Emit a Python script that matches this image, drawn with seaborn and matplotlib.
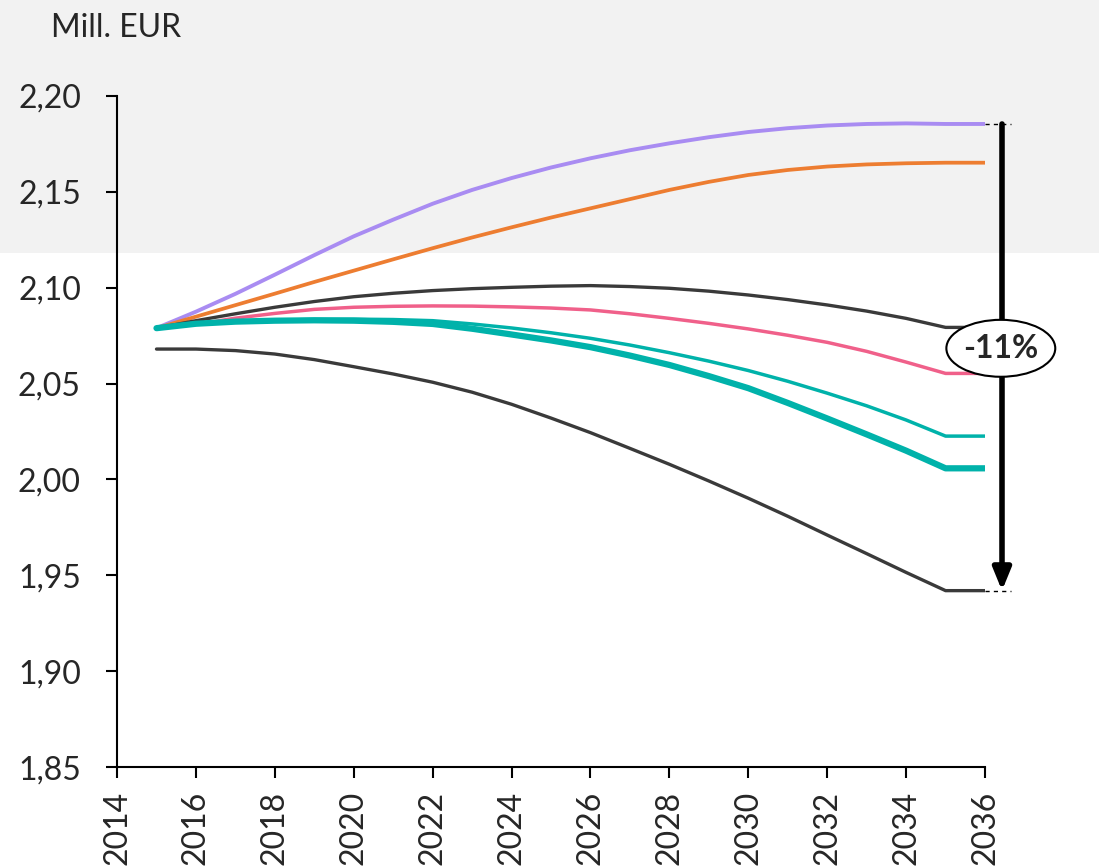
import matplotlib
matplotlib.use("Agg")
import matplotlib.pyplot as plt
import seaborn as sns
from matplotlib.patches import Ellipse, Rectangle

# data (Mill. EUR)
years = list(range(2015, 2037))
purple = [2.0789, 2.0875, 2.0968, 2.1068, 2.1170, 2.1268, 2.1355, 2.1438, 2.1510, 2.1572, 2.1627,
          2.1675, 2.1717, 2.1753, 2.1785, 2.1812, 2.1832, 2.1846, 2.1854, 2.1857, 2.1854, 2.1854]
orange = [2.0789, 2.0849, 2.0909, 2.0969, 2.1030, 2.1089, 2.1148, 2.1206, 2.1262, 2.1315, 2.1366,
          2.1414, 2.1462, 2.1510, 2.1552, 2.1588, 2.1614, 2.1632, 2.1643, 2.1649, 2.1652, 2.1652]
black_high = [2.0789, 2.0828, 2.0864, 2.0898, 2.0928, 2.0953, 2.0971, 2.0985, 2.0995, 2.1002, 2.1008,
              2.1011, 2.1006, 2.0997, 2.0982, 2.0962, 2.0938, 2.0910, 2.0878, 2.0840, 2.0793, 2.0793]
pink = [2.0789, 2.0809, 2.0841, 2.0866, 2.0887, 2.0898, 2.0903, 2.0905, 2.0904, 2.0900, 2.0894,
        2.0884, 2.0864, 2.0840, 2.0814, 2.0785, 2.0752, 2.0715, 2.0668, 2.0612, 2.0553, 2.0553]
teal_thin = [2.0789, 2.0814, 2.0825, 2.0830, 2.0835, 2.0836, 2.0834, 2.0828, 2.0811, 2.0790, 2.0765,
             2.0736, 2.0701, 2.0661, 2.0617, 2.0568, 2.0512, 2.0450, 2.0384, 2.0310, 2.0226, 2.0226]
teal_thick = [2.0789, 2.0812, 2.0823, 2.0828, 2.0830, 2.0828, 2.0822, 2.0811, 2.0786, 2.0756, 2.0725,
              2.0690, 2.0646, 2.0597, 2.0539, 2.0476, 2.0399, 2.0318, 2.0235, 2.0150, 2.0058, 2.0058]
black_low = [2.0680, 2.0680, 2.0672, 2.0654, 2.0625, 2.0588, 2.0550, 2.0507, 2.0455, 2.0392, 2.0320,
             2.0244, 2.0162, 2.0079, 1.9992, 1.9902, 1.9808, 1.9710, 1.9613, 1.9515, 1.9420, 1.9420]

x_ticks = list(range(2014, 2037, 2))
y_ticks = [1.85, 1.90, 1.95, 2.00, 2.05, 2.10, 2.15, 2.20]

sns.set_theme(style="ticks")
plt.rcParams["font.family"] = ["Lato", "DejaVu Sans"]

fig = plt.figure(figsize=(10.99, 8.67), dpi=100)
fig.patch.set_facecolor("white")
fig.patches.append(Rectangle((0, 0.708), 1, 0.292, transform=fig.transFigure,
                             facecolor="#f2f2f2", edgecolor="none", zorder=-10))
ax = fig.add_axes([0.1065, 0.1153, 0.7898, 0.774])
ax.set_facecolor("none")

series = [
    (purple, "#a98cf2", 2.8),
    (orange, "#ed7d31", 2.7),
    (black_high, "#3a3a3a", 2.4),
    (pink, "#f0608a", 2.5),
    (teal_thin, "#00b2aa", 2.5),
    (teal_thick, "#00b2aa", 4.5),
    (black_low, "#3a3a3a", 2.4),
]
for vals, col, lw in series:
    sns.lineplot(x=years, y=vals, ax=ax, color=col, linewidth=lw,
                 solid_capstyle="round", solid_joinstyle="round")

ax.set_xlim(2014, 2036)
ax.set_ylim(1.85, 2.20)
ax.set_xticks(x_ticks)
ax.set_xticklabels([str(t) for t in x_ticks], rotation=90, fontsize=23, color="#262626")
ax.set_yticks(y_ticks)
ax.set_yticklabels([f"{t:.2f}".replace(".", ",") for t in y_ticks], fontsize=23, color="#262626")
ax.tick_params(axis="y", direction="out", length=8, width=1.5, pad=18, color="black")
ax.tick_params(axis="x", direction="out", length=8, width=1.5, pad=9, color="black")
sns.despine(ax=ax)
for s in ["left", "bottom"]:
    ax.spines[s].set_linewidth(1.5)
    ax.spines[s].set_color("black")

fig.text(0.046, 1 - 37 / 867, "Mill. EUR", fontsize=23, color="#262626", va="baseline")

# range arrow from highest to lowest end value
top, bottom = purple[-1], black_low[-1]
ax_x = 2036.43
for yv in (top, bottom):
    ax.plot([2036, 2036.65], [yv, yv], color="black", lw=1, ls=(0, (3, 3)), clip_on=False)
ax.annotate("", xy=(ax_x, bottom), xytext=(ax_x, top),
            arrowprops=dict(arrowstyle="-|>,head_length=1.1,head_width=0.45", color="black",
                            lw=4, mutation_scale=12, shrinkA=0, shrinkB=0),
            annotation_clip=False)
ax.add_patch(Ellipse((ax_x - 0.03, 2.0684), 2.76, 0.0297, facecolor="white", edgecolor="black",
                     lw=1.5, clip_on=False, zorder=5))
pct = round((bottom / top - 1) * 100)
ax.text(ax_x - 0.03, 2.0684, f"{pct}%", ha="center", va="center", fontsize=23,
        fontweight="bold", color="#262626", zorder=6, clip_on=False)

fig.savefig("out.png", dpi=100)
